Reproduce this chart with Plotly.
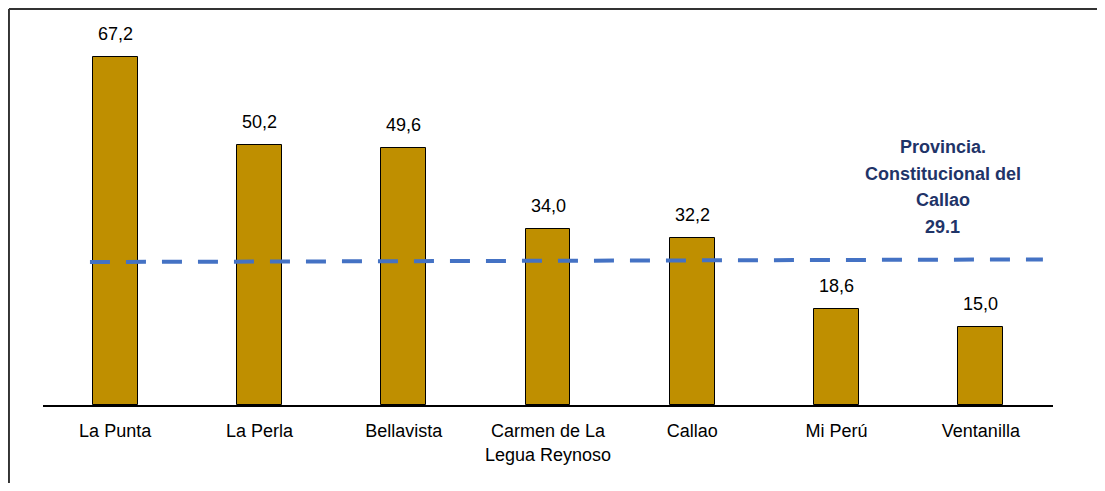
import plotly.graph_objects as go

districts = ["La Punta", "La Perla", "Bellavista", "Carmen de La<br>Legua Reynoso",
             "Callao", "Mi Perú", "Ventanilla"]
values = [67.2, 50.2, 49.6, 34.0, 32.2, 18.6, 15.0]
value_labels = ["67,2", "50,2", "49,6", "34,0", "32,2", "18,6", "15,0"]

province_lines = ["Provincia.", "Constitucional del", "Callao", "29.1"]
province_line = [27.6, 28.1]  # dashed line as drawn (slightly slanted)

font_main = "Liberation Sans, Arial, sans-serif"

fig = go.Figure()
fig.add_trace(go.Bar(
    x=districts, y=values, width=0.31,
    marker=dict(color="#BF8F00", line=dict(color="#000000", width=1)),
    hoverinfo="skip",
))

for d, v, t in zip(districts, values, value_labels):
    fig.add_annotation(x=d, y=v, text=t, showarrow=False, yanchor="bottom", yshift=11,
                       font=dict(size=18, color="#000000", family=font_main))

# provincial label, one line per annotation to keep the spacing
for i, line in enumerate(province_lines):
    fig.add_annotation(x=0.891, xref="paper", y=0.5845, yref="paper",
                       text=line, showarrow=False, xanchor="center", yanchor="middle",
                       yshift=(1.5 - i) * 26.7,
                       font=dict(size=18, color="#1F3468", family=font_main, weight="bold"))

# dashed provincial reference line
fig.add_shape(type="line", xref="paper", yref="y",
              x0=0.0465, x1=0.99, y0=province_line[0], y1=province_line[1],
              line=dict(color="#4472C4", width=4, dash="20px,16px"))

# frame
fig.add_shape(type="line", xref="paper", yref="paper", x0=-0.0337, x1=1.05, y0=1.0617, y1=1.0617,
              line=dict(color="#333333", width=2))
fig.add_shape(type="line", xref="paper", yref="paper", x0=-0.0337, x1=-0.0337, y0=1.0617, y1=-0.3,
              line=dict(color="#333333", width=2))

fig.update_xaxes(showline=True, linecolor="#000000", linewidth=1.5, ticks="",
                 ticklabelstandoff=9,
                 tickfont=dict(size=18, color="#000000", family=font_main), showgrid=False)
fig.update_yaxes(visible=False, range=[0, 72])
fig.update_layout(
    width=1089, height=475,
    margin=dict(l=35, r=44, t=24, b=78),
    plot_bgcolor="white", paper_bgcolor="white",
    showlegend=False, bargap=0,
)
fig.write_html("out.html")
